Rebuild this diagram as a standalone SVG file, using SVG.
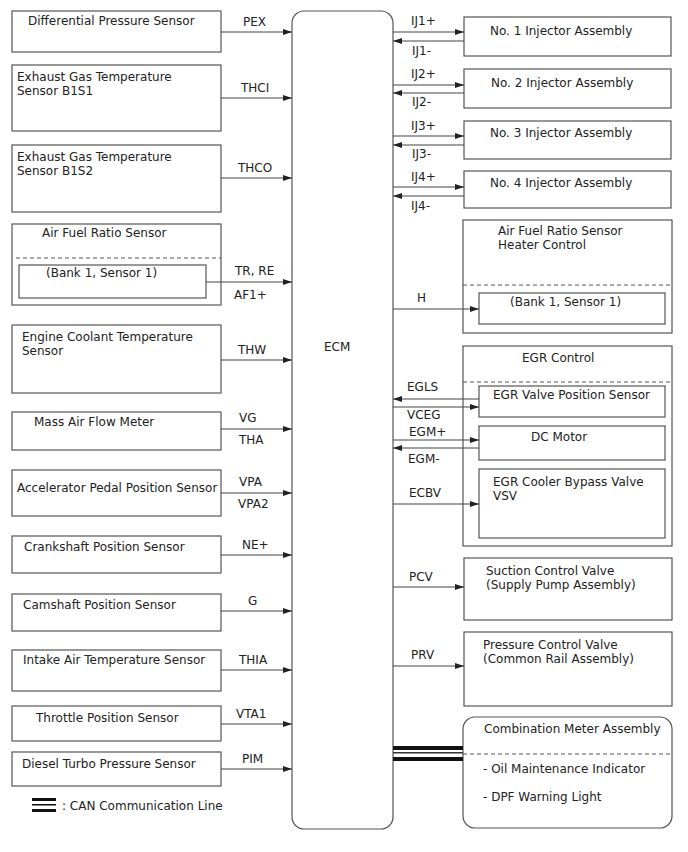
<svg xmlns="http://www.w3.org/2000/svg" width="688" height="852" viewBox="0 0 688 852">
<defs>
<marker id="ah" markerUnits="userSpaceOnUse" markerWidth="9" markerHeight="6" refX="9" refY="3" orient="auto">
<path d="M0,0 L9,3 L0,6 z" fill="#222"/>
</marker>
<style>
.b{fill:#fff;stroke:#555;stroke-width:1.2}
.d{stroke:#555;stroke-width:1;stroke-dasharray:4,3;fill:none}
.c{stroke:#444;stroke-width:1.1;fill:none;marker-end:url(#ah)}
text{font-family:"DejaVu Sans",sans-serif;font-size:12px;fill:#222}
</style>
</defs>
<rect width="688" height="852" fill="#fff"/>

<g id="ecm"><rect class="b" x="292" y="11" width="101" height="818" rx="12"/><text x="324" y="351">ECM</text></g>

<g id="n_pex"><rect class="b" x="12" y="11" width="209" height="41"/><text x="28" y="25">Differential Pressure Sensor</text></g>
<g id="n_egt1"><rect class="b" x="12" y="65" width="209" height="66"/><text x="17" y="81">Exhaust Gas Temperature</text><text x="17" y="95">Sensor B1S1</text></g>
<g id="n_egt2"><rect class="b" x="12" y="145" width="209" height="67"/><text x="17" y="161">Exhaust Gas Temperature</text><text x="17" y="175">Sensor B1S2</text></g>
<g id="n_afr"><rect class="b" x="12" y="224" width="209" height="81"/><text x="42" y="237">Air Fuel Ratio Sensor</text><line class="d" x1="16" y1="258" x2="221" y2="258"/><rect class="b" x="19" y="265" width="187" height="33"/><text x="46" y="277">(Bank 1, Sensor 1)</text></g>
<g id="n_ect"><rect class="b" x="12" y="325" width="209" height="68"/><text x="22" y="341">Engine Coolant Temperature</text><text x="22" y="355">Sensor</text></g>
<g id="n_maf"><rect class="b" x="12" y="412" width="209" height="38"/><text x="34" y="426">Mass Air Flow Meter</text></g>
<g id="n_app"><rect class="b" x="12" y="470" width="209" height="46"/><text x="17" y="492">Accelerator Pedal Position Sensor</text></g>
<g id="n_ckp"><rect class="b" x="12" y="536" width="209" height="37"/><text x="24" y="551">Crankshaft Position Sensor</text></g>
<g id="n_cmp"><rect class="b" x="12" y="594" width="209" height="37"/><text x="23" y="609">Camshaft Position Sensor</text></g>
<g id="n_iat"><rect class="b" x="12" y="650" width="209" height="41"/><text x="23" y="664">Intake Air Temperature Sensor</text></g>
<g id="n_tps"><rect class="b" x="12" y="706" width="209" height="35"/><text x="36" y="722">Throttle Position Sensor</text></g>
<g id="n_pim"><rect class="b" x="12" y="752" width="209" height="34"/><text x="22" y="768">Diesel Turbo Pressure Sensor</text></g>

<g id="legend"><rect x="32" y="798" width="24" height="3" fill="#111"/><rect x="32" y="804" width="24" height="1.5" fill="#111"/><rect x="32" y="809" width="24" height="3" fill="#111"/><text x="62" y="810">: CAN Communication Line</text></g>

<g id="n_inj1"><rect class="b" x="464" y="17" width="207" height="39"/><text x="490" y="35">No. 1 Injector Assembly</text></g>
<g id="n_inj2"><rect class="b" x="464" y="69" width="207" height="39"/><text x="491" y="87">No. 2 Injector Assembly</text></g>
<g id="n_inj3"><rect class="b" x="464" y="121" width="207" height="38"/><text x="490" y="137">No. 3 Injector Assembly</text></g>
<g id="n_inj4"><rect class="b" x="464" y="171" width="207" height="37"/><text x="490" y="187">No. 4 Injector Assembly</text></g>
<g id="n_heater"><rect class="b" x="463" y="220" width="209" height="113"/><text x="498" y="235">Air Fuel Ratio Sensor</text><text x="498" y="249">Heater Control</text><line class="d" x1="463" y1="285" x2="672" y2="285"/><rect class="b" x="479" y="293" width="186" height="31"/><text x="510" y="306">(Bank 1, Sensor 1)</text></g>
<g id="n_egr"><rect class="b" x="463" y="346" width="209" height="200"/><text x="522" y="362">EGR Control</text><line class="d" x1="463" y1="382" x2="672" y2="382"/>
<rect class="b" x="479" y="386" width="186" height="31"/><text x="493" y="399">EGR Valve Position Sensor</text>
<rect class="b" x="479" y="426" width="186" height="34"/><text x="531" y="441">DC Motor</text>
<rect class="b" x="479" y="469" width="186" height="69"/><text x="493" y="486">EGR Cooler Bypass Valve</text><text x="493" y="500">VSV</text></g>
<g id="n_pcv"><rect class="b" x="464" y="558" width="208" height="62"/><text x="486" y="575">Suction Control Valve</text><text x="486" y="589">(Supply Pump Assembly)</text></g>
<g id="n_prv"><rect class="b" x="464" y="632" width="208" height="74"/><text x="483" y="649">Pressure Control Valve</text><text x="483" y="663">(Common Rail Assembly)</text></g>
<g id="n_meter"><rect class="b" x="463" y="717" width="209" height="111" rx="12"/><text x="484" y="733">Combination Meter Assembly</text><line class="d" x1="463" y1="754" x2="672" y2="754"/><text x="483" y="773">- Oil Maintenance Indicator</text><text x="483" y="801">- DPF Warning Light</text></g>

<g id="connectors">
<line class="c" x1="221" y1="32" x2="292" y2="32"/><text x="243" y="26">PEX</text>
<line class="c" x1="221" y1="98" x2="292" y2="98"/><text x="241" y="92">THCI</text>
<line class="c" x1="221" y1="178" x2="292" y2="178"/><text x="238" y="172">THCO</text>
<line class="c" x1="206" y1="282" x2="292" y2="282"/><text x="235" y="275">TR, RE</text><text x="234" y="299">AF1+</text>
<line class="c" x1="221" y1="360" x2="292" y2="360"/><text x="238" y="354">THW</text>
<line class="c" x1="221" y1="429" x2="292" y2="429"/><text x="239" y="422">VG</text><text x="239" y="444">THA</text>
<line class="c" x1="221" y1="493" x2="292" y2="493"/><text x="239" y="486">VPA</text><text x="238" y="508">VPA2</text>
<line class="c" x1="221" y1="555" x2="292" y2="555"/><text x="242" y="549">NE+</text>
<line class="c" x1="221" y1="611" x2="292" y2="611"/><text x="248" y="605">G</text>
<line class="c" x1="221" y1="670" x2="292" y2="670"/><text x="239" y="664">THIA</text>
<line class="c" x1="221" y1="724" x2="292" y2="724"/><text x="236" y="718">VTA1</text>
<line class="c" x1="221" y1="769" x2="292" y2="769"/><text x="242" y="763">PIM</text>

<line class="c" x1="393" y1="32" x2="464" y2="32"/><line class="c" x1="464" y1="41" x2="393" y2="41"/><text x="411" y="25">IJ1+</text><text x="412" y="55">IJ1-</text>
<line class="c" x1="393" y1="85" x2="464" y2="85"/><line class="c" x1="464" y1="93" x2="393" y2="93"/><text x="411" y="78">IJ2+</text><text x="412" y="106">IJ2-</text>
<line class="c" x1="393" y1="136" x2="464" y2="136"/><line class="c" x1="464" y1="145" x2="393" y2="145"/><text x="411" y="130">IJ3+</text><text x="412" y="158">IJ3-</text>
<line class="c" x1="393" y1="187" x2="464" y2="187"/><line class="c" x1="464" y1="196" x2="393" y2="196"/><text x="411" y="181">IJ4+</text><text x="411" y="210">IJ4-</text>
<line class="c" x1="393" y1="309" x2="479" y2="309"/><text x="417" y="302">H</text>
<line class="c" x1="479" y1="399" x2="393" y2="399"/><text x="407" y="391">EGLS</text>
<line class="c" x1="393" y1="407" x2="479" y2="407"/><text x="407" y="419">VCEG</text>
<line class="c" x1="393" y1="440" x2="479" y2="440"/><text x="409" y="436">EGM+</text>
<line class="c" x1="479" y1="448" x2="393" y2="448"/><text x="408" y="463">EGM-</text>
<line class="c" x1="393" y1="504" x2="479" y2="504"/><text x="409" y="497">ECBV</text>
<line class="c" x1="393" y1="587" x2="464" y2="587"/><text x="409" y="581">PCV</text>
<line class="c" x1="393" y1="666" x2="464" y2="666"/><text x="411" y="659">PRV</text>
<rect x="393" y="746" width="70" height="4" fill="#111"/>
<rect x="393" y="752" width="70" height="1.5" fill="#333"/>
<rect x="393" y="757" width="70" height="4" fill="#111"/>
</g>
</svg>
